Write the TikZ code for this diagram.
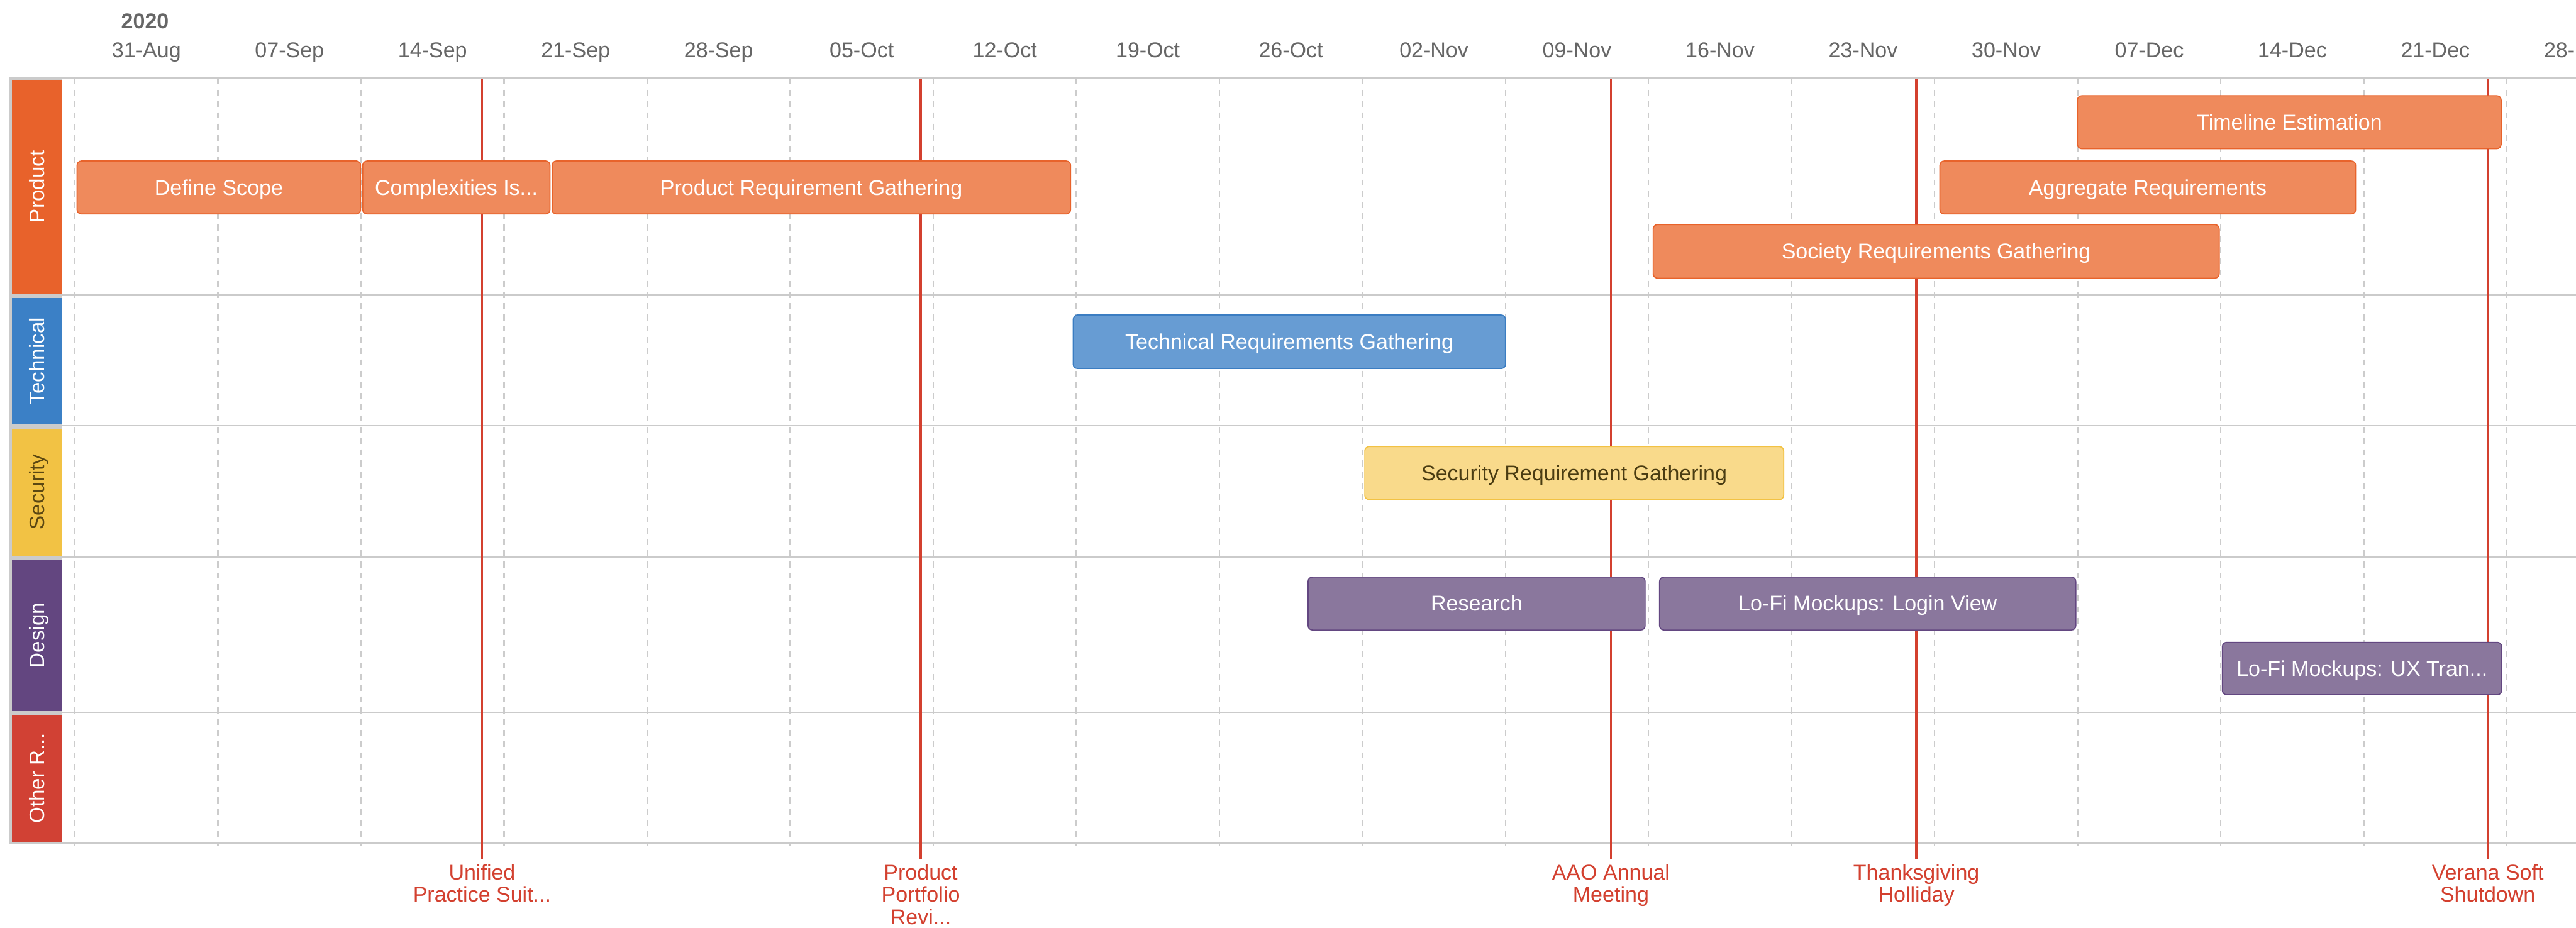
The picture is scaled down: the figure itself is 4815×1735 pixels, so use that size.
\documentclass[tikz,border=0pt]{standalone}
\usepackage{fontspec}
\setmainfont{Liberation Sans}

\definecolor{gridgray}{HTML}{CCCCCC}
\definecolor{sepgray}{HTML}{CBCBCB}
\definecolor{headgray}{HTML}{666666}
\definecolor{msred}{HTML}{D3402F}
\definecolor{prodlane}{HTML}{E8622B}
\definecolor{techlane}{HTML}{3B80C6}
\definecolor{seclane}{HTML}{F2C244}
\definecolor{desiglane}{HTML}{634680}
\definecolor{otherlane}{HTML}{D14134}
\definecolor{sectext}{HTML}{5B4712}
\definecolor{prodfill}{HTML}{EF8A5C}
\definecolor{prodline}{HTML}{E8632B}
\definecolor{techfill}{HTML}{679CD3}
\definecolor{techline}{HTML}{3B7DC2}
\definecolor{secfill}{HTML}{F9DA8B}
\definecolor{secline}{HTML}{F2C244}
\definecolor{secbartext}{HTML}{4A3C12}
\definecolor{desigfill}{HTML}{8A779D}
\definecolor{desigline}{HTML}{634781}

% a task bar: name, style, x1, x2, y1, y2, text
\newcommand\ganttbar[7]{%
  \node[#2, minimum width={(#4-#3)*0.25pt}, minimum height={(#6-#5)*0.25pt}]
    (#1) at ({(#3+#4)/2},{(#5+#6)/2}) {#7};}

\begin{document}
\begin{tikzpicture}[x=0.25pt,y=-0.25pt,
  gridline/.style={draw=gridgray, line width=0.65pt, dash pattern=on 2.75pt off 2.5pt},
  sepline/.style={draw=sepgray, line width=0.75pt},
  milestone/.style={draw=msred, line width=1pt},
  mslabel/.style={text=msred, font=\fontsize{10}{10.5}\selectfont, align=center,
                  anchor=north, inner sep=0pt},
  datelabel/.style={text=headgray, font=\fontsize{10}{12}\selectfont, anchor=base, inner sep=0pt},
  lanelabel/.style={font=\fontsize{9.75}{12}\selectfont, rotate=90, anchor=base, inner sep=0pt},
  taskbar/.style={rounded corners=2pt, line width=0.5pt, inner sep=0pt, text height=7pt,
                  text depth=0pt, font=\fontsize{10}{12}\selectfont, text=white},
  prodbar/.style={taskbar, fill=prodfill, draw=prodline},
  techbar/.style={taskbar, fill=techfill, draw=techline},
  secbar/.style={taskbar, fill=secfill, draw=secline, text=secbartext},
  desigbar/.style={taskbar, fill=desigfill, draw=desigline},
]
\useasboundingbox (0,0) rectangle (4815,1735);
\fill[white] (0,0) rectangle (4815,1735);

\begin{scope}
\clip (0,0) rectangle (4815,1735);

% week grid
\foreach \k in {0,...,17}
  \draw[gridline] ({140+267.4*\k},147) -- ({140+267.4*\k},1582);

% lane separators
\foreach \y in {146,552,796,1041,1332,1576}
  \draw[sepline] (18,\y) -- (4815,\y);

% header
\node[datelabel, font=\fontsize{10}{12}\selectfont\bfseries] (year) at (271,54) {2020};
\foreach \d [count=\k from 0] in {31-Aug,07-Sep,14-Sep,21-Sep,28-Sep,05-Oct,12-Oct,19-Oct,
    26-Oct,02-Nov,09-Nov,16-Nov,23-Nov,30-Nov,07-Dec,14-Dec,21-Dec,28-Dec}
  \node[datelabel] (date\k) at ({273.7+267.4*\k},108) {\d};

% milestones
\coordinate (m1top) at (901,148);  \coordinate (m1bot) at (901,1607);
\coordinate (m2top) at (1721,148); \coordinate (m2bot) at (1721,1607);
\coordinate (m3top) at (3011,148); \coordinate (m3bot) at (3011,1607);
\coordinate (m4top) at (3582,148); \coordinate (m4bot) at (3582,1607);
\coordinate (m5top) at (4650,148); \coordinate (m5bot) at (4650,1607);
\draw[milestone] (m1top) -- (m1bot);
\draw[milestone] (m2top) -- (m2bot);
\draw[milestone] (m3top) -- (m3bot);
\draw[milestone] (m4top) -- (m4bot);
\draw[milestone] (m5top) -- (m5bot);
\node[mslabel] (m1) at (901,1615) {Unified\\Practice Suit...};
\node[mslabel] (m2) at (1721,1615) {Product\\Portfolio\\Revi...};
\node[mslabel] (m3) at (3011,1615) {AAO Annual\\Meeting};
\node[mslabel] (m4) at (3582,1615) {Thanksgiving\\Holliday};
\node[mslabel] (m5) at (4650,1615) {Verana Soft\\Shutdown};

% task bars
\ganttbar{timeline}{prodbar}{3883}{4675}{179}{278}{Timeline Estimation}
\ganttbar{scope}{prodbar}{144}{674}{301}{400}{Define Scope}
\ganttbar{complex}{prodbar}{678}{1028}{301}{400}{Complexities Is...}
\ganttbar{prodreq}{prodbar}{1032}{2001}{301}{400}{Product Requirement Gathering}
\ganttbar{aggreg}{prodbar}{3626}{4403}{301}{400}{Aggregate Requirements}
\ganttbar{society}{prodbar}{3090}{4148}{420}{520}{Society Requirements Gathering}
\ganttbar{techreq}{techbar}{2006}{2814}{589}{689}{Technical Requirements Gathering}
\ganttbar{secreq}{secbar}{2551}{3334}{835}{934}{Security Requirement Gathering}
\ganttbar{research}{desigbar}{2445}{3075}{1079}{1178}{Research}
\ganttbar{login}{desigbar}{3102}{3880}{1079}{1178}{Lo-Fi Mockups: Login View}
\ganttbar{uxtran}{desigbar}{4154}{4676}{1201}{1299}{Lo-Fi Mockups: UX Tran...}

% lane headers
\fill[sepgray] (18,144) rectangle (115,1578);
\fill[prodlane]  (22,149)  rectangle (115,550);
\fill[techlane]  (22,557)  rectangle (115,793);
\fill[seclane]   (22,802)  rectangle (115,1039);
\fill[desiglane] (22,1046) rectangle (115,1330);
\fill[otherlane] (22,1337) rectangle (115,1574);
\node[lanelabel, text=white]   (lprod)  at (83,349)  {Product};
\node[lanelabel, text=white]   (ltech)  at (83,675)  {Technical};
\node[lanelabel, text=sectext] (lsec)   at (83,920)  {Security};
\node[lanelabel, text=white]   (ldesig) at (83,1188) {Design};
\node[lanelabel, text=white]   (lother) at (83,1455) {Other R...};
\end{scope}
\end{tikzpicture}
\end{document}
